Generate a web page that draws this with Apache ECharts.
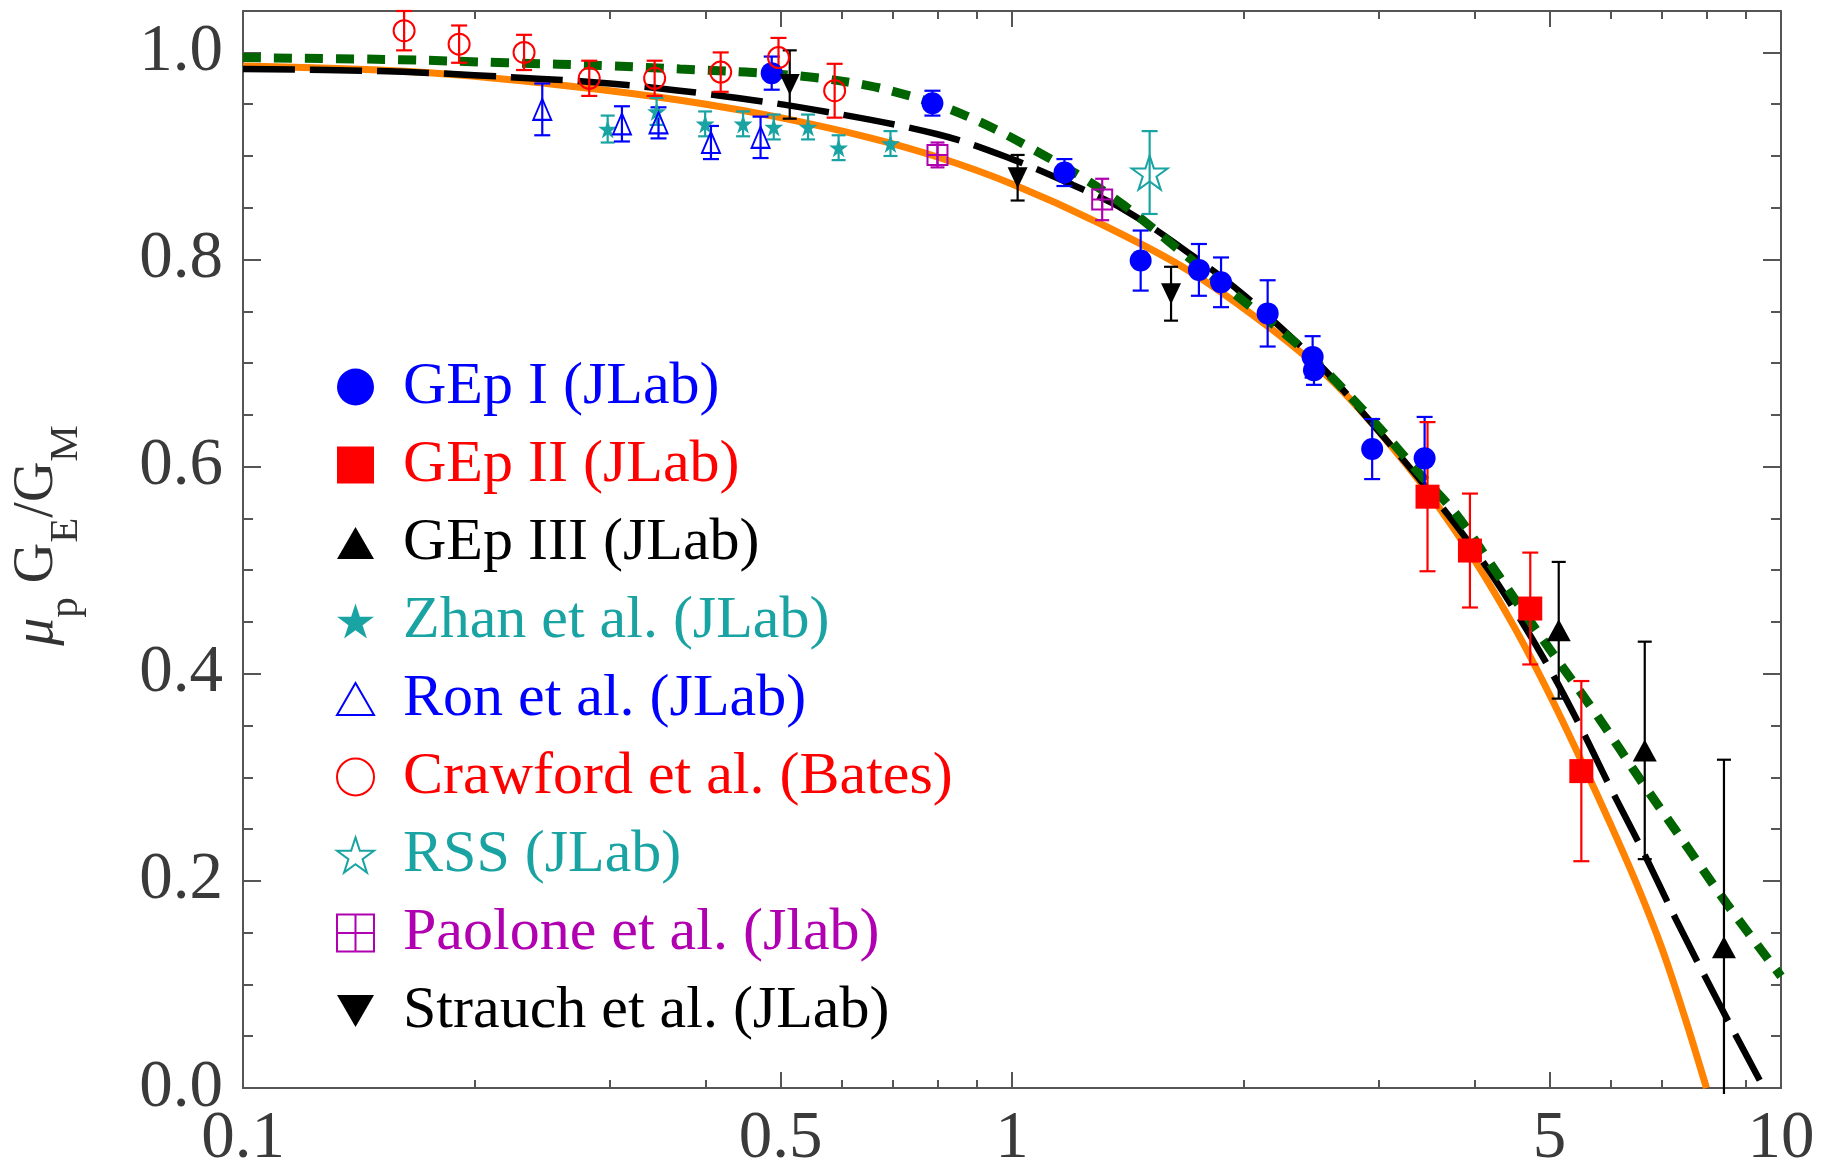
<!DOCTYPE html>
<html><head><meta charset="utf-8">
<script src="https://cdn.jsdelivr.net/npm/echarts@6/dist/echarts.min.js"></script>
<style>html,body{margin:0;padding:0;background:#fff}#c{width:1831px;height:1168px}</style>
</head><body><div id="c"></div>
<script>
// ---------------- data (Q^2 in GeV^2, ratio mu_p GE/GM, error) ----------------
const gep1Q2  = [0.487, 0.788, 1.17, 1.47, 1.75, 1.87, 2.15, 2.46, 2.47, 2.94, 3.44];
const gep1R   = [0.980, 0.951, 0.884, 0.799, 0.790, 0.778, 0.748, 0.706, 0.693, 0.617, 0.608];
const gep1Err = [0.016, 0.012, 0.013, 0.029, 0.025, 0.024, 0.032, 0.020, 0.014, 0.029, 0.040];

const gep2Q2  = [3.47, 3.94, 4.72, 5.50];
const gep2R   = [0.571, 0.519, 0.463, 0.306];
const gep2Err = [0.072, 0.055, 0.054, 0.087];

const gep3Q2  = [5.14, 6.65, 8.43];
const gep3R   = [0.442, 0.326, 0.136];
const gep3Err = [0.066, 0.105, 0.181];

const zhanQ2  = [0.298, 0.345, 0.399, 0.447, 0.490, 0.543, 0.595, 0.695];
const zhanR   = [0.926, 0.943, 0.931, 0.931, 0.928, 0.928, 0.908, 0.912];
const zhanErr = [0.013, 0.013, 0.012, 0.012, 0.012, 0.012, 0.012, 0.012];

const ronQ2   = [0.245, 0.311, 0.347, 0.406, 0.471];
const ronR    = [0.945, 0.931, 0.932, 0.913, 0.918];
const ronErr  = [0.025, 0.017, 0.015, 0.016, 0.020];

const crawQ2  = [0.162, 0.191, 0.232, 0.282, 0.343, 0.418, 0.497, 0.588];
const crawR   = [1.021, 1.008, 1.000, 0.975, 0.975, 0.981, 0.995, 0.963];
const crawErr = [0.019, 0.018, 0.017, 0.017, 0.017, 0.019, 0.019, 0.026];

const rssQ2   = [1.51];
const rssR    = [0.884];
const rssErr  = [0.040];

const paoQ2   = [0.80, 1.31];
const paoR    = [0.901, 0.858];
const paoErr  = [0.012, 0.020];

const strQ2   = [0.514, 1.017, 1.61];
const strR    = [0.969, 0.879, 0.767];
const strErr  = [0.033, 0.022, 0.026];

// curves
const orangeQ2 = [0.1, 0.15, 0.2, 0.3, 0.4, 0.5, 0.65, 0.8, 1.0, 1.3, 1.7, 2.2, 2.6, 3.0, 3.5, 4.0, 4.5, 5.0, 5.5, 6.0, 6.5, 7.0, 7.5, 8.0];
const orangeR  = [0.987, 0.983, 0.977, 0.963, 0.950, 0.937, 0.918, 0.899, 0.873, 0.835, 0.789, 0.730, 0.684, 0.634, 0.572, 0.509, 0.445, 0.380, 0.316, 0.255, 0.196, 0.135, 0.068, 0.0];

const dashQ2 = [0.1, 0.15, 0.2, 0.3, 0.4, 0.55, 0.8, 1.0, 1.2, 1.4, 1.7, 2.0, 2.5, 3.0, 3.5, 4.0, 4.5, 5.0, 5.5, 6.0, 6.6, 7.3, 8.3, 9.5];
const dashR  = [0.984, 0.982, 0.978, 0.970, 0.960, 0.945, 0.921, 0.897, 0.872, 0.848, 0.806, 0.766, 0.700, 0.634, 0.575, 0.519, 0.462, 0.405, 0.347, 0.290, 0.230, 0.163, 0.082, 0.0];

const dotQ2 = [0.1, 0.16, 0.22, 0.3, 0.37, 0.45, 0.55, 0.65, 0.72, 0.79, 0.87, 0.95, 1.05, 1.23, 1.4, 1.67, 2.0, 2.4, 2.9, 3.4, 3.79, 4.3, 5.0, 5.8, 6.6, 7.5, 8.5, 10];
const dotR  = [0.995, 0.993, 0.990, 0.987, 0.984, 0.981, 0.976, 0.968, 0.960, 0.951, 0.939, 0.926, 0.909, 0.880, 0.852, 0.806, 0.760, 0.712, 0.650, 0.592, 0.553, 0.494, 0.424, 0.357, 0.295, 0.236, 0.178, 0.108];

// axis ticks
const xMajorTicks = [0.1, 0.5, 1, 5, 10];
const xMinorTicks = [0.2, 0.3, 0.4, 0.6, 0.7, 0.8, 0.9, 2, 3, 4, 6, 7, 8, 9];
const yMajorTicks = [0, 0.2, 0.4, 0.6, 0.8, 1.0];
const yMinorTicks = [0.05, 0.1, 0.15, 0.25, 0.3, 0.35, 0.45, 0.5, 0.55, 0.65, 0.7, 0.75, 0.85, 0.9, 0.95];

// ---------------- styling ----------------
const SERIF = "'Liberation Serif','Times New Roman',serif";
const FRAME = '#555555';
const BLUE = '#0000ff', RED = '#ff0000', BLACK = '#000000', TEAL = '#1aa3a3', MAG = '#b000b0';
const NONE = 'rgba(0,0,0,0)';
const STAR = 'path://M50,0 L61.8,36.2 L100,36.2 L69.1,58.8 L80.9,95.1 L50,72.7 L19.1,95.1 L30.9,58.8 L0,36.2 L38.2,36.2 Z';
const TRI_UP = 'path://M50,0 L100,86.6 L0,86.6 Z';
const TRI_DN = 'path://M0,0 L100,0 L50,86.6 Z';
const BOXPLUS = 'path://M0,0 L100,0 L100,100 L0,100 Z M50,0 L50,100 M0,50 L100,50';

function pts(q, r) { return q.map((x, i) => [x, r[i]]); }
function bars(q, r, e) { return q.map((x, i) => [x, r[i] - e[i], r[i] + e[i]]); }

function errSeries(name, q, r, e, color, cap) {
  return {
    type: 'custom', name: name, xAxisIndex: 0, yAxisIndex: 0, z: 3, silent: true,
    data: bars(q, r, e), encode: { x: 0, y: [1, 2] },
    renderItem: function (params, api) {
      const cs = params.coordSys;
      const x = api.value(0);
      const top = api.coord([x, api.value(2)]);
      const bot = api.coord([x, api.value(1)]);
      const yMax = cs.y + cs.height;
      const st = { stroke: color, lineWidth: 2.2 };
      const ch = [
        { type: 'line', shape: { x1: top[0], y1: top[1], x2: bot[0], y2: Math.min(bot[1], yMax + 6) }, style: st },
        { type: 'line', shape: { x1: top[0] - cap, y1: top[1], x2: top[0] + cap, y2: top[1] }, style: st }
      ];
      if (bot[1] <= yMax) ch.push({ type: 'line', shape: { x1: bot[0] - cap, y1: bot[1], x2: bot[0] + cap, y2: bot[1] }, style: st });
      return { type: 'group', children: ch };
    }
  };
}
function scat(name, q, r, symbol, size, fill, stroke, bw) {
  return {
    type: 'scatter', name: name, xAxisIndex: 0, yAxisIndex: 0, z: 4,
    data: pts(q, r), symbol: symbol, symbolSize: size, symbolKeepAspect: false,
    itemStyle: { color: fill, borderColor: stroke, borderWidth: bw, opacity: 1 },
    emphasis: { disabled: true }
  };
}
function curve(name, q, r, color, width, type) {
  return {
    type: 'line', name: name, xAxisIndex: 0, yAxisIndex: 0, z: 2,
    data: pts(q, r), showSymbol: false, smooth: 0.35,
    lineStyle: { color: color, width: width, type: type, cap: 'butt' }, silent: true
  };
}

const tickLine = { color: FRAME, width: 2 };
function xTickAxis(pos, values, len, withLine, withLabel) {
  return {
    type: 'value', min: -1, max: 1, position: pos, gridIndex: 0,
    axisLine: { show: withLine, onZero: false, lineStyle: tickLine },
    axisTick: { show: true, inside: true, length: len, customValues: values.map(Math.log10), lineStyle: tickLine },
    axisLabel: withLabel ? {
      show: true, customValues: values.map(Math.log10), margin: 18,
      fontFamily: SERIF, fontSize: 67, color: '#3a3a3a',
      formatter: function (v) { const t = xMajorTicks.find(t => Math.abs(Math.log10(t) - v) < 1e-6); return t === undefined ? '' : String(t); }
    } : { show: false },
    splitLine: { show: false }, minorTick: { show: false }
  };
}
function yTickAxis(pos, values, len, withLine, withLabel) {
  return {
    type: 'value', min: 0, max: 1.04, position: pos, gridIndex: 0,
    axisLine: { show: withLine, onZero: false, lineStyle: tickLine },
    axisTick: { show: true, inside: true, length: len, customValues: values, lineStyle: tickLine },
    axisLabel: withLabel ? {
      show: true, customValues: values, margin: 20,
      fontFamily: SERIF, fontSize: 67, color: '#3a3a3a',
      formatter: function (v) { return v.toFixed(1); }
    } : { show: false },
    splitLine: { show: false }, minorTick: { show: false }
  };
}

const yLeft = yTickAxis('left', yMajorTicks, 18, true, true);
yLeft.name = '{g|}{i|\u03bc}{s|p} {n|G}{s|E}{n|/G}{s|M}';
yLeft.nameLocation = 'middle';
yLeft.nameRotate = 90;
yLeft.nameGap = 176;
yLeft.nameTextStyle = {
  fontFamily: SERIF, color: '#333333', fontSize: 56,
  rich: {
    g: { width: 28, lineHeight: 10, verticalAlign: 'top' },
    i: { fontFamily: SERIF, fontStyle: 'italic', fontSize: 56, lineHeight: 58, color: '#333333', verticalAlign: 'top' },
    n: { fontFamily: SERIF, fontSize: 56, lineHeight: 58, color: '#333333', verticalAlign: 'top' },
    s: { fontFamily: SERIF, fontSize: 41, lineHeight: 41, color: '#333333', verticalAlign: 'top', padding: [37, 0, 0, 0] }
  }
};

const option = {
  animation: false,
  backgroundColor: '#ffffff',
  grid: { left: 243, right: 50, top: 11, bottom: 80, containLabel: false, outerBoundsMode: 'none' },
  xAxis: [
    { type: 'log', logBase: 10, min: 0.1, max: 10, position: 'bottom',
      axisLine: { show: true, onZero: false, lineStyle: tickLine },
      axisTick: { show: false }, axisLabel: { show: false }, splitLine: { show: false }, minorTick: { show: false } },
    xTickAxis('bottom', xMajorTicks, 16, false, true),
    xTickAxis('bottom', xMinorTicks, 8, false, false),
    xTickAxis('top', xMajorTicks, 16, true, false),
    xTickAxis('top', xMinorTicks, 8, false, false)
  ],
  yAxis: [
    yLeft,
    yTickAxis('left', yMinorTicks, 10, false, false),
    yTickAxis('right', yMajorTicks, 18, true, false),
    yTickAxis('right', yMinorTicks, 10, false, false)
  ],
  legend: {
    orient: 'vertical', left: 331, top: 352, itemWidth: 37, itemHeight: 37, itemGap: 18,
    selectedMode: false, symbolKeepAspect: true,
    textStyle: { fontFamily: SERIF, fontSize: 60, padding: [0, 0, 0, 24] },
    data: [
      { name: 'GEp I (JLab)', icon: 'circle', itemStyle: { color: BLUE, borderWidth: 0 }, textStyle: { color: BLUE } },
      { name: 'GEp II (JLab)', icon: 'rect', itemStyle: { color: RED, borderWidth: 0 }, textStyle: { color: RED } },
      { name: 'GEp III (JLab)', icon: TRI_UP, itemStyle: { color: BLACK, borderWidth: 0 }, textStyle: { color: BLACK } },
      { name: 'Zhan et al. (JLab)', icon: STAR, itemStyle: { color: TEAL, borderWidth: 0 }, textStyle: { color: TEAL } },
      { name: 'Ron et al. (JLab)', icon: TRI_UP, itemStyle: { color: NONE, borderColor: BLUE, borderWidth: 2 }, textStyle: { color: BLUE } },
      { name: 'Crawford et al. (Bates)', icon: 'circle', itemStyle: { color: NONE, borderColor: RED, borderWidth: 2 }, textStyle: { color: RED } },
      { name: 'RSS (JLab)', icon: STAR, itemStyle: { color: NONE, borderColor: TEAL, borderWidth: 2 }, textStyle: { color: TEAL } },
      { name: 'Paolone et al. (Jlab)', icon: BOXPLUS, itemStyle: { color: NONE, borderColor: MAG, borderWidth: 2 }, textStyle: { color: MAG } },
      { name: 'Strauch et al. (JLab)', icon: TRI_DN, itemStyle: { color: BLACK, borderWidth: 0 }, textStyle: { color: BLACK } }
    ]
  },
  series: [
    curve('fit-orange', orangeQ2, orangeR, '#ff8200', 7, 'solid'),
    curve('fit-dashed', dashQ2, dashR, '#000000', 6.5, [52, 15]),
    curve('fit-dotted', dotQ2, dotR, '#006400', 9, [18, 13]),

    scat('GEp I (JLab)', gep1Q2, gep1R, 'circle', 22, BLUE, BLUE, 0),
    scat('GEp II (JLab)', gep2Q2, gep2R, 'rect', 24, RED, RED, 0),
    scat('GEp III (JLab)', gep3Q2, gep3R, TRI_UP, [24, 22], BLACK, BLACK, 0),
    scat('Zhan et al. (JLab)', zhanQ2, zhanR, STAR, 19, TEAL, TEAL, 0),
    scat('Ron et al. (JLab)', ronQ2, ronR, TRI_UP, [18, 21], NONE, BLUE, 2),
    scat('Crawford et al. (Bates)', crawQ2, crawR, 'circle', 21, NONE, RED, 2),
    scat('RSS (JLab)', rssQ2, rssR, STAR, [36, 34], NONE, TEAL, 2),
    scat('Paolone et al. (Jlab)', paoQ2, paoR, BOXPLUS, 20, NONE, MAG, 2),
    scat('Strauch et al. (JLab)', strQ2, strR, TRI_DN, [20, 21], BLACK, BLACK, 0),

    errSeries('GEp I (JLab)', gep1Q2, gep1R, gep1Err, BLUE, 8),
    errSeries('GEp II (JLab)', gep2Q2, gep2R, gep2Err, RED, 8),
    errSeries('GEp III (JLab)', gep3Q2, gep3R, gep3Err, BLACK, 7),
    errSeries('Zhan et al. (JLab)', zhanQ2, zhanR, zhanErr, TEAL, 7),
    errSeries('Ron et al. (JLab)', ronQ2, ronR, ronErr, BLUE, 8),
    errSeries('Crawford et al. (Bates)', crawQ2, crawR, crawErr, RED, 8),
    errSeries('RSS (JLab)', rssQ2, rssR, rssErr, TEAL, 8),
    errSeries('Paolone et al. (Jlab)', paoQ2, paoR, paoErr, MAG, 7),
    errSeries('Strauch et al. (JLab)', strQ2, strR, strErr, BLACK, 7)
  ]
};

const chart = echarts.init(document.getElementById('c'), null, { renderer: 'canvas' });
chart.setOption(option);
</script>
</body></html>
